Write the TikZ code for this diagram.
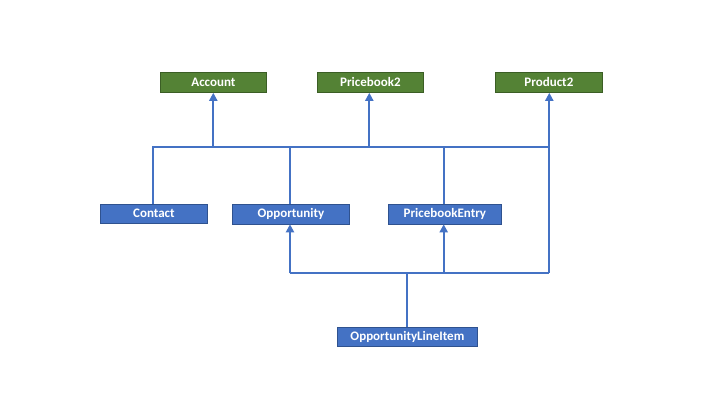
\documentclass[tikz,border=0pt]{standalone}
\usepackage{fontspec}
\setmainfont{Carlito}
\usetikzlibrary{arrows.meta}
\definecolor{objgreen}{HTML}{548235}
\definecolor{objgreenb}{HTML}{3B5E25}
\definecolor{objblue}{HTML}{4472C4}
\definecolor{objblueb}{HTML}{2F528F}
\begin{document}
\begin{tikzpicture}[x=1pt,y=-1pt,
  gbox/.style={draw=objgreenb,fill=objgreen,line width=0.8pt,text=white,font=\fontsize{13}{15}\selectfont\bfseries,inner sep=0pt,anchor=north west},
  bbox/.style={draw=objblueb,fill=objblue,line width=0.8pt,text=white,font=\fontsize{13}{15}\selectfont\bfseries,inner sep=0pt,anchor=north west},
  link/.style={draw=objblue,line width=2pt},
  arr/.style={link,-{Triangle[width=8pt,length=8pt]}}]
\useasboundingbox (0,0) rectangle (720,405);
% top objects
\node[gbox,minimum width=106pt,minimum height=20pt] (acc) at (160,72) {Account};
\node[gbox,minimum width=106pt,minimum height=20pt] (pb2) at (317,72) {Pricebook2};
\node[gbox,minimum width=107pt,minimum height=20pt] (prod) at (495,72) {Product2};
% middle objects
\node[bbox,minimum width=107pt,minimum height=19.5pt] (con) at (100,203.5) {Contact};
\node[bbox,minimum width=117pt,minimum height=19.5pt] (opp) at (232,204) {Opportunity};
\node[bbox,minimum width=113pt,minimum height=19.5pt] (pbe) at (388,204) {PricebookEntry};
% bottom object
\node[bbox,minimum width=140pt,minimum height=19pt] (oli) at (337,327) {OpportunityLineItem};
% bus coordinates
\coordinate (busL) at (152.7,147.3);
\coordinate (busR) at (549.3,147.3);
\coordinate (accJ) at (213.3,147.3);
\coordinate (pb2J) at (369.3,147.3);
\coordinate (oppJ) at (290,147.3);
\coordinate (pbeJ) at (443.7,147.3);
\coordinate (lowL) at (290,273.3);
\coordinate (lowR) at (549.3,273.3);
\coordinate (lowPbe) at (443.7,273.3);
\coordinate (lowOli) at (406.7,273.3);
% upper bus
\draw[link] (con.north -| busL) -- (busL) -- (busR);
\draw[link] (opp.north -| oppJ) -- (oppJ);
\draw[link] (pbe.north -| pbeJ) -- (pbeJ);
\draw[arr] (accJ) -- (acc.south -| accJ);
\draw[arr] (pb2J) -- (pb2.south -| pb2J);
% lower bus
\draw[link] (oli.north -| lowOli) -- (lowOli);
\draw[link] (lowL) -- (lowR);
\draw[arr] (lowR) -- (prod.south -| lowR);
\draw[arr] (lowL) -- (opp.south -| lowL);
\draw[arr] (lowPbe) -- (pbe.south -| lowPbe);
\end{tikzpicture}
\end{document}
